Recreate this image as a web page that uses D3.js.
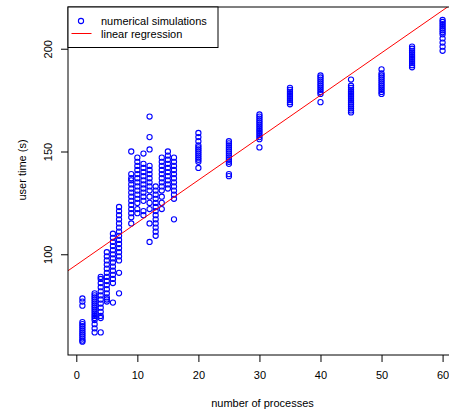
<!DOCTYPE html>
<html>
<head>
<meta charset="utf-8">
<script src="https://cdn.jsdelivr.net/npm/d3@7"></script>
<style>
  html, body { margin: 0; padding: 0; background: #fff; }
  svg { display: block; }
  text { font-family: "Liberation Sans", Arial, Helvetica, sans-serif; }
</style>
</head>
<body>
<svg id="chart" width="449" height="412"></svg>
<script>
// ---- data ----
const processCounts = [1, 3, 4, 5, 6, 7, 9, 10, 11, 12, 13, 14, 15, 16, 20, 25, 30, 35, 40, 45, 50, 55, 60];
const userTimes = [
  [78.5, 77, 75, 67, 66, 65, 64, 63, 62, 61, 60, 59, 58, 57.5],
  [81, 80, 79, 78, 77, 76, 75, 74, 73, 72, 71, 70, 69, 68, 66, 64, 62],
  [89, 88, 86, 84, 82, 80, 78, 76, 74, 72, 70, 69, 62],
  [101, 99, 97, 95, 93, 91, 89, 87, 85, 83, 81, 79, 78, 77],
  [110, 108, 106, 104, 102, 100, 98, 96, 94, 92, 90, 88, 86, 76.5],
  [123, 121, 119, 117, 115, 113, 111, 109, 107, 105, 103, 101, 99, 97, 91, 81],
  [150, 139, 137, 136, 134, 132, 130, 128, 126, 124, 122, 120, 118, 115],
  [147, 145, 143, 141, 139, 137, 135, 133, 131, 129, 127, 125, 122, 120],
  [149, 144, 142, 140, 138, 136, 134, 132, 130, 128, 126, 121, 119],
  [167, 157, 151, 143, 141, 139, 137, 135, 133, 131, 128, 125, 122, 115, 106],
  [133, 131, 129, 127, 125, 123, 121, 119, 117, 115, 113, 111, 109],
  [147, 145, 143, 141, 139, 137, 135, 133, 131, 128, 125, 122],
  [150, 148, 146, 144, 142, 140, 138, 136, 134, 132],
  [147, 145, 143, 141, 139, 137, 135, 133, 131, 129, 127, 117],
  [159, 157, 155, 153, 152, 151, 150, 149, 148, 147, 146, 145, 142],
  [155, 154, 153, 152, 151, 150, 149, 148, 147, 146, 145, 144, 139, 138],
  [168, 167, 166, 165, 164, 163, 162, 161, 160, 159, 158, 157, 156, 152],
  [181, 180, 179, 178, 177, 176, 175, 174, 173],
  [187, 186, 185, 184, 183, 182, 181, 180, 179, 178, 174],
  [185, 182, 181, 180, 179, 178, 177, 176, 175, 174, 173, 172, 171, 170, 169],
  [190, 188, 187, 186, 185, 184, 183, 182, 181, 180, 179, 178],
  [201, 200, 199, 198, 197, 196, 195, 194, 193, 192, 191],
  [214, 213, 212, 211, 210, 209, 208, 207, 205, 203, 201, 199]
];
const regressionIntercept = 94.8;
const regressionSlope = 2.064;
const xTicks = [0, 10, 20, 30, 40, 50, 60];
const yTicks = [100, 150, 200];
const legendLabels = ["numerical simulations", "linear regression"];
const xTitle = "number of processes";
const yTitle = "user time (s)";

// ---- layout ----
const plot = { left: 68, right: 457, top: 7, bottom: 355 };
const svg = d3.select("#chart");

const x = d3.scaleLinear().domain([-1.36, 62.36]).range([plot.left, plot.right]);
const y = d3.scaleLinear().domain([51, 220.3]).range([plot.bottom, plot.top]);

svg.append("defs").append("clipPath").attr("id", "clip")
  .append("rect")
  .attr("x", plot.left).attr("y", plot.top)
  .attr("width", plot.right - plot.left).attr("height", plot.bottom - plot.top);

const points = [];
processCounts.forEach((p, i) => userTimes[i].forEach(t => points.push({ p, t })));

const g = svg.append("g").attr("clip-path", "url(#clip)");
g.selectAll("circle").data(points).enter().append("circle")
  .attr("cx", d => x(d.p))
  .attr("cy", d => y(d.t))
  .attr("r", 2.6)
  .attr("fill", "none")
  .attr("stroke", "#0000ff")
  .attr("stroke-width", 1.1);

const [x0, x1] = x.domain();
g.append("line")
  .attr("x1", x(x0)).attr("y1", y(regressionIntercept + regressionSlope * x0))
  .attr("x2", x(x1)).attr("y2", y(regressionIntercept + regressionSlope * x1))
  .attr("stroke", "#ff0000").attr("stroke-width", 1);

// box
svg.append("rect")
  .attr("x", plot.left).attr("y", plot.top)
  .attr("width", plot.right - plot.left).attr("height", plot.bottom - plot.top)
  .attr("fill", "none").attr("stroke", "#000").attr("stroke-width", 1);

// x axis
const xAxis = d3.axisBottom(x).tickValues(xTicks).tickSize(7).tickPadding(9).tickSizeOuter(0);
const xg = svg.append("g").attr("transform", `translate(0,${plot.bottom})`).call(xAxis);
xg.select(".domain").remove();
xg.selectAll("text").attr("font-size", 11).attr("fill", "#000")
  .attr("font-family", "Liberation Sans, Arial, sans-serif");

// y axis
const yAxis = d3.axisLeft(y).tickValues(yTicks).tickSize(7).tickSizeOuter(0);
const yg = svg.append("g").attr("transform", `translate(${plot.left},0)`).call(yAxis);
yg.select(".domain").remove();
yg.selectAll("text")
  .attr("font-size", 11).attr("fill", "#000")
  .attr("font-family", "Liberation Sans, Arial, sans-serif")
  .attr("x", null).attr("dy", null)
  .attr("text-anchor", "middle")
  .attr("transform", "translate(-16,0) rotate(-90)");

// titles
svg.append("text")
  .attr("x", (plot.left + plot.right) / 2).attr("y", 407)
  .attr("text-anchor", "middle").attr("font-size", 11).text(xTitle);
svg.append("text")
  .attr("transform", `translate(26,170) rotate(-90)`)
  .attr("text-anchor", "middle").attr("font-size", 11).text(yTitle);

// legend
const lg = svg.append("g");
lg.append("rect")
  .attr("x", plot.left).attr("y", plot.top)
  .attr("width", 150).attr("height", 40.5)
  .attr("fill", "#fff").attr("stroke", "#000").attr("stroke-width", 1);
lg.append("circle").attr("cx", 81).attr("cy", 21).attr("r", 2.6)
  .attr("fill", "none").attr("stroke", "#0000ff").attr("stroke-width", 1.1);
lg.append("line").attr("x1", 71.5).attr("x2", 91.5).attr("y1", 33.5).attr("y2", 33.5)
  .attr("stroke", "#ff0000");
lg.selectAll("text.leg").data(legendLabels).enter().append("text")
  .attr("class", "leg")
  .attr("x", 101).attr("y", (d, i) => 25 + i * 12.5)
  .attr("font-size", 11).text(d => d);
</script>
</body>
</html>
